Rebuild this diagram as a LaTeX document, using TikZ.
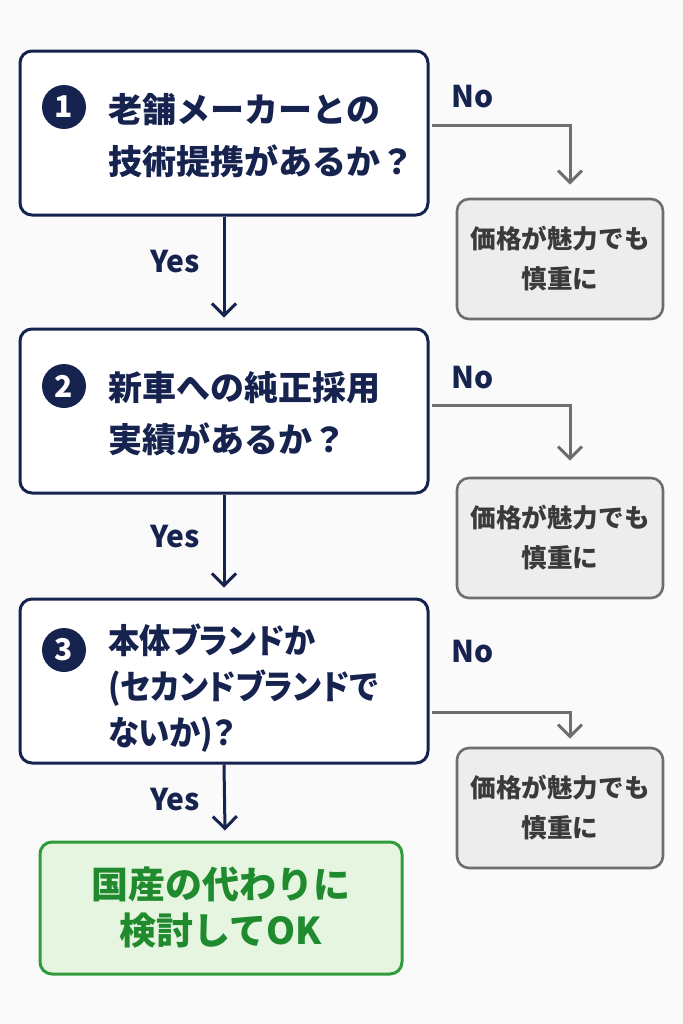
\documentclass[tikz,border=0pt]{standalone}
\usepackage{fontspec}
\setmainfont{Noto Sans CJK JP}
\usetikzlibrary{arrows.meta,positioning}
\definecolor{navy}{HTML}{16234E}
\definecolor{pagebg}{HTML}{FAFAFA}
\definecolor{grayline}{HTML}{6E6E6E}
\definecolor{grayfill}{HTML}{EDEDED}
\definecolor{graytext}{HTML}{3A3A3A}
\definecolor{okline}{HTML}{2F9B3A}
\definecolor{okfill}{HTML}{E6F5DF}
\definecolor{oktext}{HTML}{1F8A2E}

\begin{document}
\begin{tikzpicture}[x=0.5pt,y=-0.5pt,
  qbox/.style={draw=navy,line width=1.5pt,rounded corners=6pt,fill=white,
    minimum width=204pt,minimum height=82pt},
  qtext/.style={anchor=west,align=left,text=navy,inner sep=0pt,
    font=\bfseries\fontsize{17pt}{26pt}\selectfont},
  num/.style={circle,fill=navy,text=white,minimum size=22pt,inner sep=0pt,
    font=\bfseries\fontsize{15pt}{15pt}\selectfont},
  nobox/.style={draw=grayline,line width=1.3pt,rounded corners=6pt,fill=grayfill,
    minimum width=103pt,minimum height=60pt,align=center,text=graytext,
    font=\bfseries\fontsize{12.8pt}{20pt}\selectfont},
  okbox/.style={draw=okline,line width=1.5pt,rounded corners=6pt,fill=okfill,
    minimum width=181pt,minimum height=66pt,align=center,text=oktext,
    font=\bfseries\fontsize{18.5pt}{23pt}\selectfont},
  yesline/.style={draw=navy,line width=1.5pt,-{Straight Barb[length=6pt,width=12pt]}},
  noline/.style={draw=grayline,line width=1.5pt,-{Straight Barb[length=6pt,width=12pt]}},
  lbl/.style={text=navy,font=\bfseries\fontsize{15pt}{15pt}\selectfont}]
  \fill[pagebg] (0,0) rectangle (683,1024);
  \useasboundingbox (0,0) rectangle (683,1024);

  % questions
  \node[qbox] (q1) at (224,133) {};
  \node[num] (n1) at (64,107) {1};
  \node[qtext] (t1) at (108,136) {老舗メーカーとの\\技術提携があるか？};

  \node[qbox] (q2) at (224,411) {};
  \node[num] (n2) at (64,386) {2};
  \node[qtext] (t2) at (108,414) {新車への純正採用\\実績があるか？};

  \node[qbox] (q3) at (224,681) {};
  \node[num] (n3) at (64,650) {3};
  \node[qtext,font=\bfseries\fontsize{17pt}{23pt}\selectfont\addfontfeatures{RawFeature=+palt,FakeStretch=0.92}]
    (t3) at (108,688) {本体ブランドか\\(セカンドブランドで\\ないか)？};

  % answers
  \node[nobox] (g1) at (560,259) {価格が魅力でも\\慎重に};
  \node[nobox] (g2) at (560,538) {価格が魅力でも\\慎重に};
  \node[nobox] (g3) at (560,808) {価格が魅力でも\\慎重に};
  \node[okbox] (ok) at (221,908) {国産の代わりに\\検討してOK};

  % Yes
  \draw[yesline] (q1.south) -- ([yshift=5pt]q2.north);
  \draw[yesline] (q2.south) -- ([yshift=5pt]q3.north);
  \draw[yesline] (q3.south) -- ([yshift=5pt,xshift=2pt]ok.north);
  \node[lbl] (y1) at (175,262) {Yes};
  \node[lbl] (y2) at (175,537) {Yes};
  \node[lbl] (y3) at (175,800) {Yes};

  % No
  \coordinate (c1) at (432,125);
  \coordinate (c2) at (432,405);
  \coordinate (c3) at (432,712);
  \draw[noline] (c1) -| ([xshift=5pt,yshift=6.5pt]g1.north);
  \draw[noline] (c2) -| ([xshift=5pt,yshift=8pt]g2.north);
  \draw[noline] (c3) -| ([xshift=5pt,yshift=4pt]g3.north);
  \node[lbl] (m1) at (473,97) {No};
  \node[lbl] (m2) at (473,378) {No};
  \node[lbl] (m3) at (473,652) {No};
\end{tikzpicture}
\end{document}
